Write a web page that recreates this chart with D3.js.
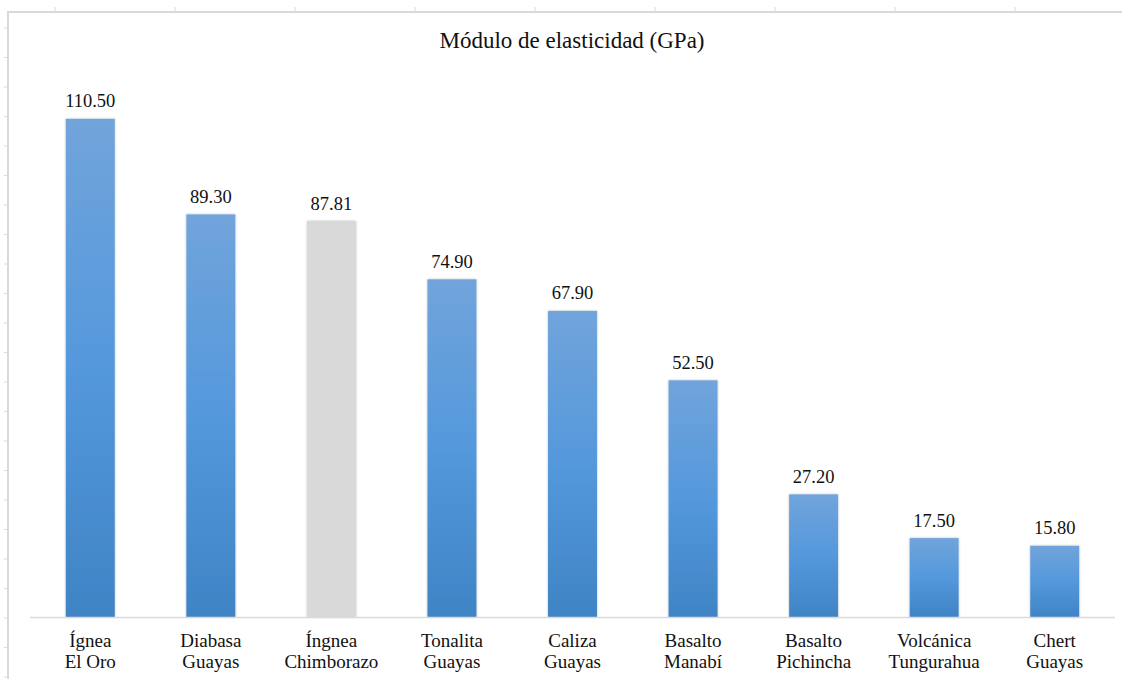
<!DOCTYPE html>
<html>
<head>
<meta charset="utf-8">
<script src="https://cdn.jsdelivr.net/npm/d3@7"></script>
<style>
  html, body { margin: 0; padding: 0; background: #ffffff; }
  svg { display: block; }
</style>
</head>
<body>
<svg id="chart" width="1122" height="679"></svg>
<script>
// Rock samples (two-line category labels) and their elastic modulus in GPa
const rocaLinea1 = ["Ígnea", "Diabasa", "Íngnea", "Tonalita", "Caliza", "Basalto", "Basalto", "Volcánica", "Chert"];
const rocaLinea2 = ["El Oro", "Guayas", "Chimborazo", "Guayas", "Guayas", "Manabí", "Pichincha", "Tungurahua", "Guayas"];
const modulo = [110.50, 89.30, 87.81, 74.90, 67.90, 52.50, 27.20, 17.50, 15.80];
// Which bar is drawn in grey instead of blue
const resaltado = [false, false, true, false, false, false, false, false, false];
const titulo = "Módulo de elasticidad (GPa)";
const yMax = 120;

const FONT = "'Liberation Serif', serif";

const W = 1122, H = 679;
const svg = d3.select("#chart");

const plot = { left: 30, right: 1115, top: 76, bottom: 617 };

const x = d3.scaleBand()
  .domain(d3.range(modulo.length))
  .range([plot.left, plot.right])
  .paddingInner(0.594)
  .paddingOuter(0.297);

const y = d3.scaleLinear()
  .domain([0, yMax])
  .range([plot.bottom, plot.top]);

const defs = svg.append("defs");

const gradAzul = defs.append("linearGradient")
  .attr("id", "gradAzul")
  .attr("x1", 0).attr("y1", 0).attr("x2", 0).attr("y2", 1);
gradAzul.append("stop").attr("offset", "0%").attr("stop-color", "#71a4db");
gradAzul.append("stop").attr("offset", "50%").attr("stop-color", "#5498dc");
gradAzul.append("stop").attr("offset", "100%").attr("stop-color", "#3f84c5");

const sombra = defs.append("filter")
  .attr("id", "sombra")
  .attr("x", "-20%").attr("y", "-5%").attr("width", "140%").attr("height", "110%");
sombra.append("feGaussianBlur").attr("in", "SourceAlpha").attr("stdDeviation", 1.3).attr("result", "blur");
sombra.append("feFlood").attr("flood-color", "#000").attr("flood-opacity", 0.28);
sombra.append("feComposite").attr("in2", "blur").attr("operator", "in").attr("result", "shadow");
const merge = sombra.append("feMerge");
merge.append("feMergeNode").attr("in", "shadow");
merge.append("feMergeNode").attr("in", "SourceGraphic");

// Outer frame with ruler-style ticks along the top and left edges
const frameColor = "#d9d9d9";
const frame = svg.append("g");
frame.append("line")
  .attr("x1", 8).attr("x2", W).attr("y1", 12).attr("y2", 12)
  .attr("stroke", frameColor).attr("stroke-width", 2);
frame.append("line")
  .attr("x1", 8).attr("x2", 8).attr("y1", 11).attr("y2", H)
  .attr("stroke", frameColor).attr("stroke-width", 2);

const rulerTop = d3.range(55, W, 120);
frame.selectAll("line.rt")
  .data(rulerTop)
  .join("line")
  .attr("class", "rt")
  .attr("x1", d => d).attr("x2", d => d)
  .attr("y1", 7).attr("y2", 12)
  .attr("stroke", frameColor).attr("stroke-width", 1);

const rulerLeft = d3.range(28, H, 29.5);
frame.selectAll("line.rl")
  .data(rulerLeft)
  .join("line")
  .attr("class", "rl")
  .attr("x1", 4).attr("x2", 8)
  .attr("y1", d => d).attr("y2", d => d)
  .attr("stroke", frameColor).attr("stroke-width", 1);

// Title
svg.append("text")
  .attr("x", 572)
  .attr("y", 48)
  .attr("text-anchor", "middle")
  .attr("font-family", FONT)
  .attr("font-size", 23)
  .attr("fill", "#111")
  .text(titulo);

// Bars
svg.append("g")
  .selectAll("rect")
  .data(modulo)
  .join("rect")
  .attr("x", (d, i) => x(i))
  .attr("y", d => y(d))
  .attr("width", x.bandwidth())
  .attr("height", d => y(0) - y(d))
  .attr("fill", (d, i) => resaltado[i] ? "#d9d9d9" : "url(#gradAzul)")
  .attr("filter", "url(#sombra)");

// Category axis line
svg.append("line")
  .attr("x1", plot.left).attr("x2", plot.right)
  .attr("y1", y(0) + 0.5).attr("y2", y(0) + 0.5)
  .attr("stroke", "#d9d9d9").attr("stroke-width", 1.5);

// Value labels above each bar
svg.append("g")
  .selectAll("text")
  .data(modulo)
  .join("text")
  .attr("font-family", FONT)
  .attr("font-size", 18.5)
  .attr("fill", "#111")
  .attr("x", (d, i) => x(i) + x.bandwidth() / 2)
  .attr("y", d => y(d) - 11.5)
  .attr("text-anchor", "middle")
  .text(d => d.toFixed(2));

// Two-line category labels
const cat = svg.append("g")
  .selectAll("text")
  .data(modulo)
  .join("text")
  .attr("font-family", FONT)
  .attr("font-size", 19)
  .attr("fill", "#111")
  .attr("text-anchor", "middle");
cat.append("tspan")
  .attr("x", (d, i) => x(i) + x.bandwidth() / 2)
  .attr("y", 647)
  .text((d, i) => rocaLinea1[i]);
cat.append("tspan")
  .attr("x", (d, i) => x(i) + x.bandwidth() / 2)
  .attr("y", 668)
  .text((d, i) => rocaLinea2[i]);
</script>
</body>
</html>
